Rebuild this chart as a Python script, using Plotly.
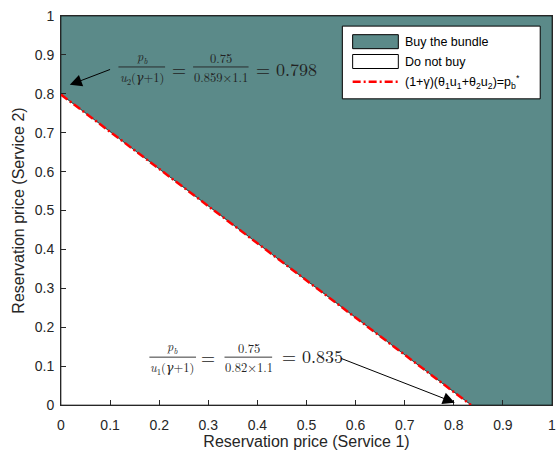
import plotly.graph_objects as go

# Bundle pricing parameters
price_bundle = 0.75
u1, u2 = 0.82, 0.859
gamma_factor = 1.1
# Intercepts of the indifference line (as stated in the annotations)
x_intercept = 0.835
y_intercept = 0.798

x_ticks = [0, 0.1, 0.2, 0.3, 0.4, 0.5, 0.6, 0.7, 0.8, 0.9, 1]
y_ticks = [0, 0.1, 0.2, 0.3, 0.4, 0.5, 0.6, 0.7, 0.8, 0.9, 1]

legend_labels = [
    "Buy the bundle",
    "Do not buy",
    "(1+γ)(θ<sub>1</sub>u<sub>1</sub>+θ<sub>2</sub>u<sub>2</sub>)=p<sub>b</sub><sup>*</sup>",
]

teal = "#5b8a89"
axis_col = "#262626"
font_sans = "Arial, Liberation Sans, sans-serif"
font_serif = "Latin Modern Roman, DejaVu Serif, Liberation Serif, serif"
red_dash = "8px,3px,2px,3px"

fig = go.Figure()

# Region where the consumer buys the bundle
fig.add_trace(go.Scatter(
    x=[0, 0, 1, 1, x_intercept, 0], y=[y_intercept, 1, 1, 0, 0, y_intercept],
    fill="toself", fillcolor=teal, mode="lines",
    line=dict(color="black", width=0.6), name=legend_labels[0], hoverinfo="skip"))

# Region where the consumer does not buy
fig.add_trace(go.Scatter(
    x=[0, 0, x_intercept, 0], y=[0, y_intercept, 0, 0],
    fill="toself", fillcolor="white", mode="lines",
    line=dict(color="black", width=0.6), name=legend_labels[1], hoverinfo="skip"))

# Indifference line
fig.add_trace(go.Scatter(
    x=[0, x_intercept], y=[y_intercept, 0], mode="lines",
    line=dict(color="red", width=2.5, dash=red_dash),
    name=legend_labels[2]))

annotations = []
shapes = []


def fraction(xc, y_bar, x0, x1, num, den, size=12.5):
    annotations.append(dict(x=xc, y=y_bar, text=num, showarrow=False, yanchor="bottom",
                            borderpad=0, yshift=-1,
                            font=dict(family=font_serif, size=size, color="#222")))
    annotations.append(dict(x=xc, y=y_bar, text=den, showarrow=False, yanchor="top",
                            borderpad=0, yshift=0,
                            font=dict(family=font_serif, size=size, color="#222")))
    shapes.append(dict(type="line", x0=x0, x1=x1, y0=y_bar, y1=y_bar,
                       line=dict(color="#222", width=0.9)))


def text(x, y, s, size=18, anchor="center"):
    annotations.append(dict(x=x, y=y, text=s, showarrow=False, xanchor=anchor,
                            font=dict(family=font_serif, size=size, color="#222")))


# Upper label: vertical intercept
fraction(0.164, 0.869, 0.117, 0.212,
         "<i>p<sub>b</sub></i>", "<i>u</i><sub>2</sub>(<i>γ</i>+1)")
text(0.240, 0.866, "=")
fraction(0.325, 0.869, 0.269, 0.382,
         f"{price_bundle}", f"{u2}×{gamma_factor}")
text(0.394, 0.866, f"= {y_intercept}", anchor="left")
annotations.append(dict(x=0.018, y=0.823, ax=0.103, ay=0.864, axref="x", ayref="y",
                        text="", showarrow=True, arrowhead=2, arrowsize=2.4,
                        arrowwidth=1, arrowcolor="black"))

# Lower label: horizontal intercept
fraction(0.226, 0.123, 0.180, 0.275,
         "<i>p<sub>b</sub></i>", "<i>u</i><sub>1</sub>(<i>γ</i>+1)")
text(0.299, 0.124, "=")
fraction(0.382, 0.123, 0.333, 0.430,
         f"{price_bundle}", f"{u1}×{gamma_factor}")
text(0.446, 0.127, f"= {x_intercept}", anchor="left")
annotations.append(dict(x=0.802, y=0.006, ax=0.568, ay=0.121, axref="x", ayref="y",
                        text="", showarrow=True, arrowhead=2, arrowsize=2.4,
                        arrowwidth=1, arrowcolor="black"))

# Legend box (paper coordinates)
lg_x0, lg_x1, lg_y0, lg_y1 = 0.573, 0.976, 0.787, 0.974
shapes.append(dict(type="rect", xref="paper", yref="paper", x0=lg_x0, x1=lg_x1,
                   y0=lg_y0, y1=lg_y1, fillcolor="white",
                   line=dict(color="black", width=1)))
key_x0, key_x1, text_x = 0.594, 0.687, 0.697
rows_y = [0.934, 0.883, 0.831]
shapes.append(dict(type="rect", xref="paper", yref="paper", x0=key_x0, x1=key_x1,
                   y0=rows_y[0] - 0.018, y1=rows_y[0] + 0.018, fillcolor=teal,
                   line=dict(color="black", width=1)))
shapes.append(dict(type="rect", xref="paper", yref="paper", x0=key_x0, x1=key_x1,
                   y0=rows_y[1] - 0.018, y1=rows_y[1] + 0.018, fillcolor="white",
                   line=dict(color="black", width=1)))
shapes.append(dict(type="line", xref="paper", yref="paper", x0=key_x0, x1=key_x1,
                   y0=rows_y[2], y1=rows_y[2],
                   line=dict(color="red", width=2.5, dash=red_dash)))
for label, ry in zip(legend_labels, rows_y):
    annotations.append(dict(xref="paper", yref="paper", x=text_x, y=ry, text=label,
                            showarrow=False, xanchor="left", yanchor="middle",
                            font=dict(family=font_sans, size=12.5, color="black")))

axis_common = dict(
    range=[0, 1], showgrid=False, zeroline=False, ticks="inside", ticklen=5,
    tickcolor=axis_col, showline=True, mirror=True, linecolor=axis_col, linewidth=1,
    tickfont=dict(family=font_sans, size=14, color=axis_col),
    ticklabeloverflow="allow",
)

fig.update_layout(
    width=558, height=453,
    margin=dict(l=61, r=2, t=16, b=48),
    paper_bgcolor="white", plot_bgcolor="white",
    font=dict(family=font_sans, color=axis_col),
    showlegend=False,
    xaxis=dict(**axis_common, tickvals=x_ticks, ticklabelstandoff=7,
               title=dict(text="Reservation price (Service 1)", standoff=2,
                          font=dict(family=font_sans, size=16, color=axis_col))),
    yaxis=dict(**axis_common, tickvals=y_ticks, ticklabelstandoff=3,
               title=dict(text="Reservation price (Service 2)", standoff=6,
                          font=dict(family=font_sans, size=16, color=axis_col))),
    annotations=annotations,
    shapes=shapes,
)

fig.write_html("out.html")
